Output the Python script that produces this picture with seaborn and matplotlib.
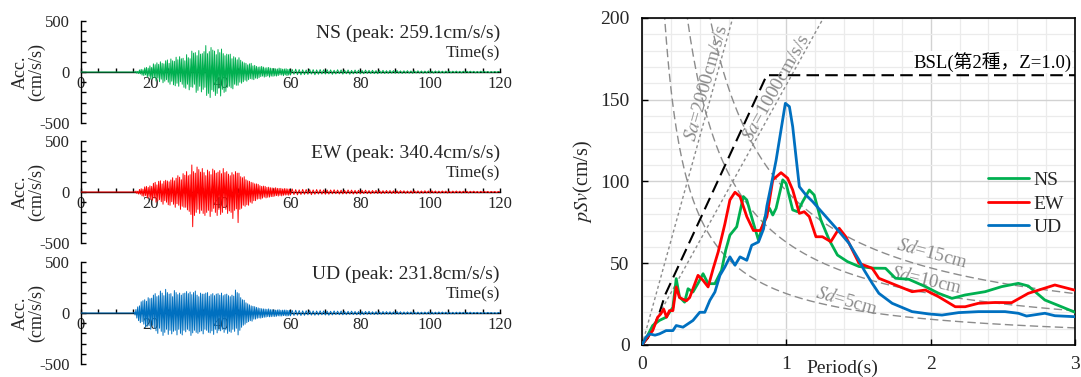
import numpy as np
import matplotlib
matplotlib.use('Agg')
import matplotlib.pyplot as plt
from matplotlib.ticker import MultipleLocator
import seaborn as sns

# ---- acceleration records (cm/s/s); quiet until 15 s, 0.25 s steps to 60 s, then 0.5 s steps
wave_time = np.concatenate([[0.0], np.arange(15.0, 60.0, 0.25), np.arange(60.0, 120.01, 0.5)])

ns_acc = [0.0,
          0, 2, -5, 8, -12, 6, -15, 20, -18, 26, -30, 22, -35, 40, -28, 45, -50, 38, -42, 60,
          -70, 45, -62, 80, -55, 72, -88, 90, -60, 75, -95, 100, -70, 85, -105, 80, -90, 110, -75, 118,
          -100, 85, -120, 128, -90, 110, -125, 105, -135, 145, -110, 120, -140, 150, -95, 130, -120, 135, -150, 110,
          -160, 170, -120, 140, -175, 130, -145, 205, -150, 185, -120, 190, -200, 160, -180, 210, -140, 175, -195, 180,
          -170, 200, -150, 259.1, -230, 180, -210, 200, -250, 240, -175, 215, -190, 205, -230, 170, -210, 220, -160, 190,
          -235, 225, -170, 180, -200, 160, -190, 175, -150, 170, -140, 175, -155, 130, -165, 150, -120, 140, -130, 120,
          -130, 140, -100, 115, -110, 100, -95, 90, -80, 85, -90, 70, -75, 80, -65, 85, -70, 60, -75, 65,
          -60, 55, -65, 48, -55, 50, -45, 55, -40, 48, -50, 40, -45, 42, -38, 45, -50, 38, -40, 35,
          -42, 35, -38, 32, -40, 30, -35, 38, -28, 34, -30, 28, -36, 30, -28, 32, -35, 26, -30, 28,
          -30, 25, -22, 28, -26, 24, -28, 22, -25, 20, -24, 26, -20, 23, -27, 21, -22, 24, -19, 22,
          -20, 22, -18, 21, -23, 17, -19, 22, -16, 20, -21, 18, -17, 20, -22, 16, -18, 19, -15, 18,
          -18, 15, -17, 19, -14, 16, -15, 17, -16, 14, -17, 15, -13, 16, -15, 13, -14, 16, -12, 14,
          -13, 15, -12, 11, -14, 12, -11, 13, -12, 10, -13, 11, -10, 12, -11, 10, -12, 9, -10, 11,
          -10, 9, -11, 10, -8, 11, -9, 8, -10, 9, -8, 10, -9, 8, -7, 9, -8, 7, -9, 8,
          -8, 9, -7, 8, -6, 7, -8, 6, -7, 8, -6, 7, -5, 6, -7, 5, -6, 6, -5, 6,
          0]

ew_acc = [0.0,
          0, 3, -6, 10, -14, 8, -20, 25, -22, 32, -38, 28, -42, 50, -35, 55, -60, 45, -52, 60,
          -75, 55, -80, 85, -60, 95, -100, 70, -88, 105, -75, 110, -95, 80, -120, 105, -85, 115, -100, 108,
          -125, 100, -130, 118, -95, 140, -120, 110, -150, 135, -115, 160, -130, 145, -170, 120, -140, 180, -150, 165,
          -150, 200, -175, 160, -190, 170, -220, 265, -340.4, 200, -230, 185, -200, 245, -170, 220, -210, 195, -180, 230,
          -210, 190, -230, 160, -200, 215, -180, 200, -240, 170, -190, 225, -160, 210, -200, 185, -230, 195, -170, 210,
          -220, 180, -200, 230, -150, 190, -170, 200, -210, 175, -185, 160, -200, 190, -260, 170, -180, 200, -165, 185,
          -300, 185, -170, 150, -160, 140, -130, 150, -140, 120, -125, 110, -130, 105, -100, 95, -110, 90, -85, 80,
          -85, 80, -70, 75, -65, 62, -70, 55, -60, 58, -50, 55, -58, 45, -52, 48, -50, 42, -45, 40,
          -45, 38, -40, 42, -35, 36, -40, 35, -33, 36, -38, 30, -32, 34, -30, 32, -28, 30, -32, 28,
          -27, 30, -25, 24, -28, 22, -24, 26, -22, 25, -20, 23, -26, 21, -22, 24, -19, 23, -21, 20,
          -22, 19, -21, 20, -18, 22, -17, 19, -20, 18, -19, 16, -18, 20, -17, 19, -20, 16, -18, 17,
          -18, 17, -15, 18, -16, 14, -17, 15, -13, 16, -15, 14, -16, 13, -14, 15, -13, 14, -15, 12,
          -15, 12, -14, 13, -11, 12, -13, 10, -12, 11, -13, 12, -10, 11, -12, 10, -11, 12, -9, 10,
          -10, 12, -9, 10, -11, 8, -9, 10, -8, 9, -10, 8, -9, 9, -8, 10, -7, 8, -9, 8,
          -7, 8, -9, 7, -6, 8, -7, 6, -8, 7, -6, 7, -5, 6, -7, 6, -5, 6, -6, 5,
          0]

ud_acc = [0.0,
          0, 8, -20, 35, -50, 60, -75, 70, -95, 110, -85, 120, -110, 130, -140, 115, -130, 150, -125, 140,
          -160, 145, -120, 175, -150, 190, -175, 160, -200, 170, -150, 215, -180, 195, -220, 170, -190, 231.8, -160, 200,
          -210, 185, -170, 190, -205, 160, -180, 220, -170, 200, -215, 180, -160, 195, -200, 175, -215, 190, -170, 195,
          -185, 210, -160, 190, -175, 205, -220, 180, -195, 200, -170, 215, -190, 175, -200, 160, -185, 195, -175, 185,
          -205, 185, -160, 195, -170, 200, -190, 165, -195, 180, -175, 190, -210, 170, -160, 185, -195, 190, -170, 175,
          -175, 195, -160, 170, -190, 180, -165, 185, -200, 170, -180, 160, -190, 175, -160, 165, -180, 225, -150, 200,
          -215, 190, -170, 150, -140, 130, -120, 125, -110, 100, -95, 90, -85, 80, -75, 70, -80, 65, -60, 62,
          -60, 55, -52, 50, -48, 45, -50, 42, -45, 40, -42, 38, -40, 36, -35, 40, -38, 33, -36, 32,
          -33, 30, -35, 28, -32, 30, -28, 32, -30, 26, -30, 28, -26, 29, -27, 28, -30, 25, -27, 26,
          -28, 25, -24, 27, -22, 24, -25, 21, -23, 22, -19, 23, -21, 20, -22, 19, -20, 21, -18, 20,
          -20, 18, -22, 17, -19, 20, -16, 18, -17, 19, -18, 15, -17, 16, -15, 18, -16, 15, -17, 14,
          -18, 14, -16, 15, -13, 16, -14, 12, -15, 13, -14, 12, -13, 14, -12, 13, -11, 12, -13, 11,
          -12, 14, -11, 12, -13, 10, -12, 11, -9, 10, -11, 10, -10, 9, -11, 8, -10, 9, -9, 10,
          -11, 9, -10, 8, -9, 10, -8, 9, -7, 8, -9, 8, -8, 7, -9, 8, -7, 8, -6, 7,
          -8, 7, -6, 8, -7, 6, -5, 7, -6, 5, -6, 6, -5, 6, -4, 5, -5, 4, -5, 5,
          0]

# ---- pseudo velocity response spectra (cm/s)
ns_T = [0.0, 0.04, 0.074, 0.12, 0.167, 0.214, 0.237, 0.26, 0.295, 0.319, 0.353, 0.39,
        0.423, 0.458, 0.505, 0.551, 0.58, 0.609, 0.656, 0.702, 0.726, 0.772, 0.807,
        0.853, 0.883, 0.906, 0.929, 0.975, 0.998, 1.044, 1.078, 1.113, 1.159, 1.193,
        1.239, 1.297, 1.354, 1.423, 1.503, 1.6, 1.687, 1.756, 1.848, 1.963, 2.055,
        2.147, 2.239, 2.377, 2.492, 2.607, 2.676, 2.791, 2.906, 3.0]
ns_psv = [0, 6, 11.9, 15, 17, 23, 40.6, 29.3, 26.2, 34.4, 32.4, 38, 43.6, 37.5, 37.5,
          45.7, 58, 67.2, 72.3, 90.8, 88.7, 74.4, 64.1, 78.5, 83.6, 79.5, 83.6, 101,
          98.8, 82.6, 81.5, 87.7, 94.8, 91.7, 76.5, 64.2, 55, 51, 48, 47, 46.9, 40.8,
          40.2, 35.7, 31.6, 28.5, 30.6, 32.6, 35.7, 37.7, 36.1, 27.5, 23.4, 20]

ew_T = [0.0, 0.04, 0.074, 0.109, 0.13, 0.15, 0.17, 0.19, 0.214, 0.237, 0.26, 0.307,
        0.33, 0.388, 0.423, 0.458, 0.493, 0.528, 0.574, 0.609, 0.644, 0.679, 0.726,
        0.772, 0.819, 0.865, 0.906, 0.963, 1.009, 1.044, 1.09, 1.124, 1.159, 1.205,
        1.25, 1.308, 1.366, 1.412, 1.503, 1.595, 1.641, 1.756, 1.871, 1.963, 2.055,
        2.17, 2.239, 2.331, 2.446, 2.561, 2.676, 2.86, 3.0]
ew_psv = [0, 5, 8.8, 17, 19, 22, 17, 21, 21, 35.5, 29, 27, 29, 42.6, 39.5, 35.5, 46.7,
          57, 74, 88.7, 93.4, 90.8, 78.5, 70, 70, 78.5, 101, 105.4, 102, 94.8, 80.5,
          81.5, 78.5, 66.2, 66.2, 63.2, 71.4, 66.2, 50, 46.9, 40.8, 36.7, 32.6, 33.6,
          29.5, 23.4, 23.4, 25.5, 26, 25.9, 31.6, 36.7, 33.5]

ud_T = [0.0, 0.03, 0.051, 0.09, 0.121, 0.167, 0.214, 0.237, 0.284, 0.353, 0.4, 0.435,
        0.47, 0.505, 0.54, 0.574, 0.609, 0.644, 0.679, 0.726, 0.76, 0.807, 0.842,
        0.865, 0.9, 0.929, 0.963, 0.993, 1.021, 1.044, 1.067, 1.09, 1.136, 1.182,
        1.274, 1.366, 1.434, 1.503, 1.538, 1.595, 1.641, 1.733, 1.871, 1.986, 2.078,
        2.193, 2.331, 2.515, 2.607, 2.664, 2.791, 2.86, 3.0]
ud_psv = [0, 5, 6.8, 6.0, 6.8, 8.8, 8.8, 11.9, 10.9, 15, 20, 20, 27.3, 32.4, 42.6,
          47.7, 53.9, 48.8, 53.9, 51.8, 61, 63, 71, 85, 100, 113, 131.5, 147.8, 145.8,
          133.5, 115, 96.8, 91.7, 87.7, 78.5, 69.3, 62.2, 52, 45.9, 37.7, 31.6, 25.5,
          20.4, 19, 18.3, 19.8, 20.4, 20.4, 19.4, 17.7, 19.4, 17.9, 17.3]

# BSL design spectrum (2nd class ground, Z=1.0), corner points
bsl_T = [0.0, 0.04, 0.08, 0.12, 0.16, 0.864, 3.0]
bsl_psv = [0.0, 4.2, 10.7, 19.5, 30.6, 165.0, 165.0]

# tripartite guide levels
sd_levels = [5, 10, 15]          # cm
sa_levels = [1000, 2000]         # cm/s/s

colors = {'NS': '#00b050', 'EW': '#ff0000', 'UD': '#0070c0'}
guide_gray = '#8c8c8c'

sns.set_theme(style='white')
plt.rcParams['font.family'] = ['Liberation Serif', 'Noto Sans CJK JP']
plt.rcParams['mathtext.fontset'] = 'stix'
plt.rcParams['axes.unicode_minus'] = False

fig = plt.figure(figsize=(10.81, 3.77), dpi=100)

# ---- left: time histories
panels = [('NS', ns_acc, 0.6737), ('EW', ew_acc, 0.3554), ('UD', ud_acc, 0.0345)]
for name, acc, bottom in panels:
    ax = fig.add_axes([0.0749, bottom, 0.3876, 0.2706])
    sns.lineplot(x=wave_time, y=acc, ax=ax, color=colors[name], linewidth=0.7, zorder=3)
    ax.set_xlim(0, 120)
    ax.set_ylim(-500, 500)
    ax.spines['top'].set_visible(False)
    ax.spines['right'].set_visible(False)
    ax.spines['bottom'].set_position(('data', 0))
    for s in ('left', 'bottom'):
        ax.spines[s].set_color('black')
        ax.spines[s].set_linewidth(1.0)
    ax.xaxis.set_major_locator(MultipleLocator(20))
    ax.xaxis.set_minor_locator(MultipleLocator(5))
    ax.yaxis.set_major_locator(MultipleLocator(500))
    ax.yaxis.set_minor_locator(MultipleLocator(100))
    ax.tick_params(axis='both', which='both', direction='in', bottom=True, left=True,
                   color='black', width=1.0, labelsize=12)
    ax.tick_params(axis='x', which='both', length=3, pad=3)
    ax.tick_params(axis='y', which='both', length=3.5, pad=8)
    peak = np.abs(np.array(acc)).max()
    ax.text(1.0, 0.88, f'{name} (peak: {peak:.1f}cm/s/s)', transform=ax.transAxes,
            ha='right', va='center', fontsize=14)
    ax.text(1.0, 0.68, 'Time(s)', transform=ax.transAxes, ha='right', va='center',
            fontsize=12.5)
    ax.text(-0.125, 0.5, 'Acc.\n(cm/s/s)', transform=ax.transAxes, rotation=90,
            ha='center', va='center', fontsize=13, linespacing=1.0)

# ---- right: pSv spectrum
ax = fig.add_axes([0.5939, 0.0849, 0.4006, 0.8674])
ax.set_xlim(0, 3)
ax.set_ylim(0, 200)
ax.xaxis.set_major_locator(MultipleLocator(1))
ax.xaxis.set_minor_locator(MultipleLocator(0.2))
ax.yaxis.set_major_locator(MultipleLocator(50))
ax.yaxis.set_minor_locator(MultipleLocator(10))
ax.set_axisbelow(True)
ax.grid(which='major', color='#d2d2d2', linewidth=1.0)
ax.grid(which='minor', color='#ebebeb', linewidth=0.9)

T_guide = np.linspace(0.05, 3.0, 300)
for sd in sd_levels:
    sns.lineplot(x=T_guide, y=2 * np.pi * sd / T_guide, ax=ax, color=guide_gray,
                 linewidth=1.0, zorder=2).lines[-1].set_dashes((6, 3))
for sa in sa_levels:
    sns.lineplot(x=[0.0, 3.0], y=[0.0, sa * 3.0 / (2 * np.pi)], ax=ax, color=guide_gray,
                 linewidth=1.0, zorder=2).lines[-1].set_dashes((2.2, 2))

sns.lineplot(x=bsl_T, y=bsl_psv, ax=ax, color='black', linewidth=1.5,
             zorder=3).lines[-1].set_dashes((6, 3))

for name, T, v in [('NS', ns_T, ns_psv), ('EW', ew_T, ew_psv), ('UD', ud_T, ud_psv)]:
    sns.lineplot(x=T, y=v, ax=ax, color=colors[name], linewidth=2.0, label=name,
                 zorder=4, sort=False)

label_kw = dict(color='#8c8c8c', ha='center', va='center', rotation_mode='anchor')
ax.text(0.45, 160, r'$Sa$=2000cm/s/s', rotation=74.4, fontsize=14, **label_kw)
ax.text(0.93, 157, r'$Sa$=1000cm/s/s', rotation=60.9, fontsize=14, **label_kw)
ax.text(2.01, 56, r'$Sd$=15cm', rotation=-15, fontsize=13.5, **label_kw)
ax.text(1.97, 40, r'$Sd$=10cm', rotation=-13, fontsize=13.5, **label_kw)
ax.text(1.42, 27.5, r'$Sd$=5cm', rotation=-16, fontsize=13.5, **label_kw)

ax.text(2.975, 173, 'BSL(第2種，Z=1.0)', ha='right', va='center', fontsize=13.5,
        color='black', zorder=5,
        bbox=dict(facecolor='white', edgecolor='none', pad=0.5))

ax.legend(loc='upper left', bbox_to_anchor=(0.80, 0.53), frameon=False,
          fontsize=14, handlelength=2.1, handletextpad=0.2, labelspacing=0.3,
          borderpad=0, borderaxespad=0)

for s in ax.spines.values():
    s.set_color('black')
    s.set_linewidth(1.2)
ax.tick_params(axis='both', which='major', direction='in', bottom=True, left=True,
               color='black', length=4, width=1.0, labelsize=14)
ax.tick_params(axis='x', pad=8)
ax.tick_params(axis='y', pad=9)
ax.text(1.39, -0.07, 'Period(s)', transform=ax.get_xaxis_transform(), ha='center',
        va='center', fontsize=14)
ax.set_ylabel(r'$pSv$(cm/s)', fontsize=14.5, labelpad=4)

fig.savefig('out.png', dpi=100)
